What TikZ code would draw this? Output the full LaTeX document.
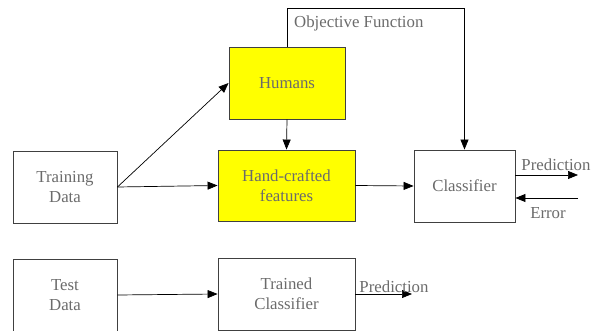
\documentclass[tikz,border=0pt]{standalone}
\usepackage{fontspec}
\setmainfont{Liberation Serif}
\usetikzlibrary{arrows.meta}
\definecolor{boxline}{rgb}{0.25, 0.25, 0.25}
\definecolor{labelgray}{rgb}{0.42, 0.42, 0.42}
\definecolor{hiyellow}{rgb}{1, 1, 0}

\begin{document}
\begin{tikzpicture}[x=1pt, y=-1pt,
    block/.style={draw=boxline, line width=0.9pt, text=labelgray, align=center,
        inner sep=0pt, font=\fontsize{16.8}{20}\selectfont},
    hand/.style={block, fill=hiyellow},
    lbl/.style={text=labelgray, inner sep=0pt, font=\fontsize{16.8}{20}\selectfont},
    flow/.style={-{Triangle[length=10pt,width=8pt]}, line width=0.7pt, black}]
    \useasboundingbox (0,0) rectangle (598,331);

    % Training path
    \node[block, minimum width=104pt, minimum height=72pt] (train) at (65,187) {Training\\Data};
    \node[hand, minimum width=116pt, minimum height=72pt] (hum) at (287,83) {Humans};
    \node[hand, minimum width=137pt, minimum height=71pt] (feat) at (286.5,185.5) {Hand-crafted\\features};
    \node[block, minimum width=101pt, minimum height=72pt] (cls) at (464.5,186) {Classifier};

    \draw[flow] (train.east) -- (hum.west);
    \draw[flow] (train.east) -- (feat.west);
    \draw[flow] (hum.south) -- (feat.north);
    \draw[flow] (feat.east) -- (cls.west);

    % Objective function loop
    \coordinate (objtop) at (287,8);
    \draw[flow] (hum.north) -- (objtop) -| (cls.north);
    \node[lbl, anchor=west] (obj) at (294,23) {Objective Function};

    % Prediction and error
    \coordinate (predend) at (578,175);
    \coordinate (errstart) at (578,198);
    \draw[flow] (cls.east |- predend) -- (predend);
    \draw[flow] (errstart) -- (cls.east |- errstart);
    \node[lbl] (pred) at (556,165) {Prediction};
    \node[lbl] (err) at (548,213) {Error};

    % Test path
    \node[block, minimum width=104pt, minimum height=72pt] (test) at (65,295) {Test\\Data};
    \node[block, minimum width=137pt, minimum height=72pt] (trn) at (286.5,294) {Trained\\Classifier};
    \coordinate (predend2) at (412,294);
    \draw[flow] (test.east) -- (trn.west);
    \draw[flow] (trn.east) -- (predend2);
    \node[lbl] (pred2) at (394,287) {Prediction};

\end{tikzpicture}
\end{document}
